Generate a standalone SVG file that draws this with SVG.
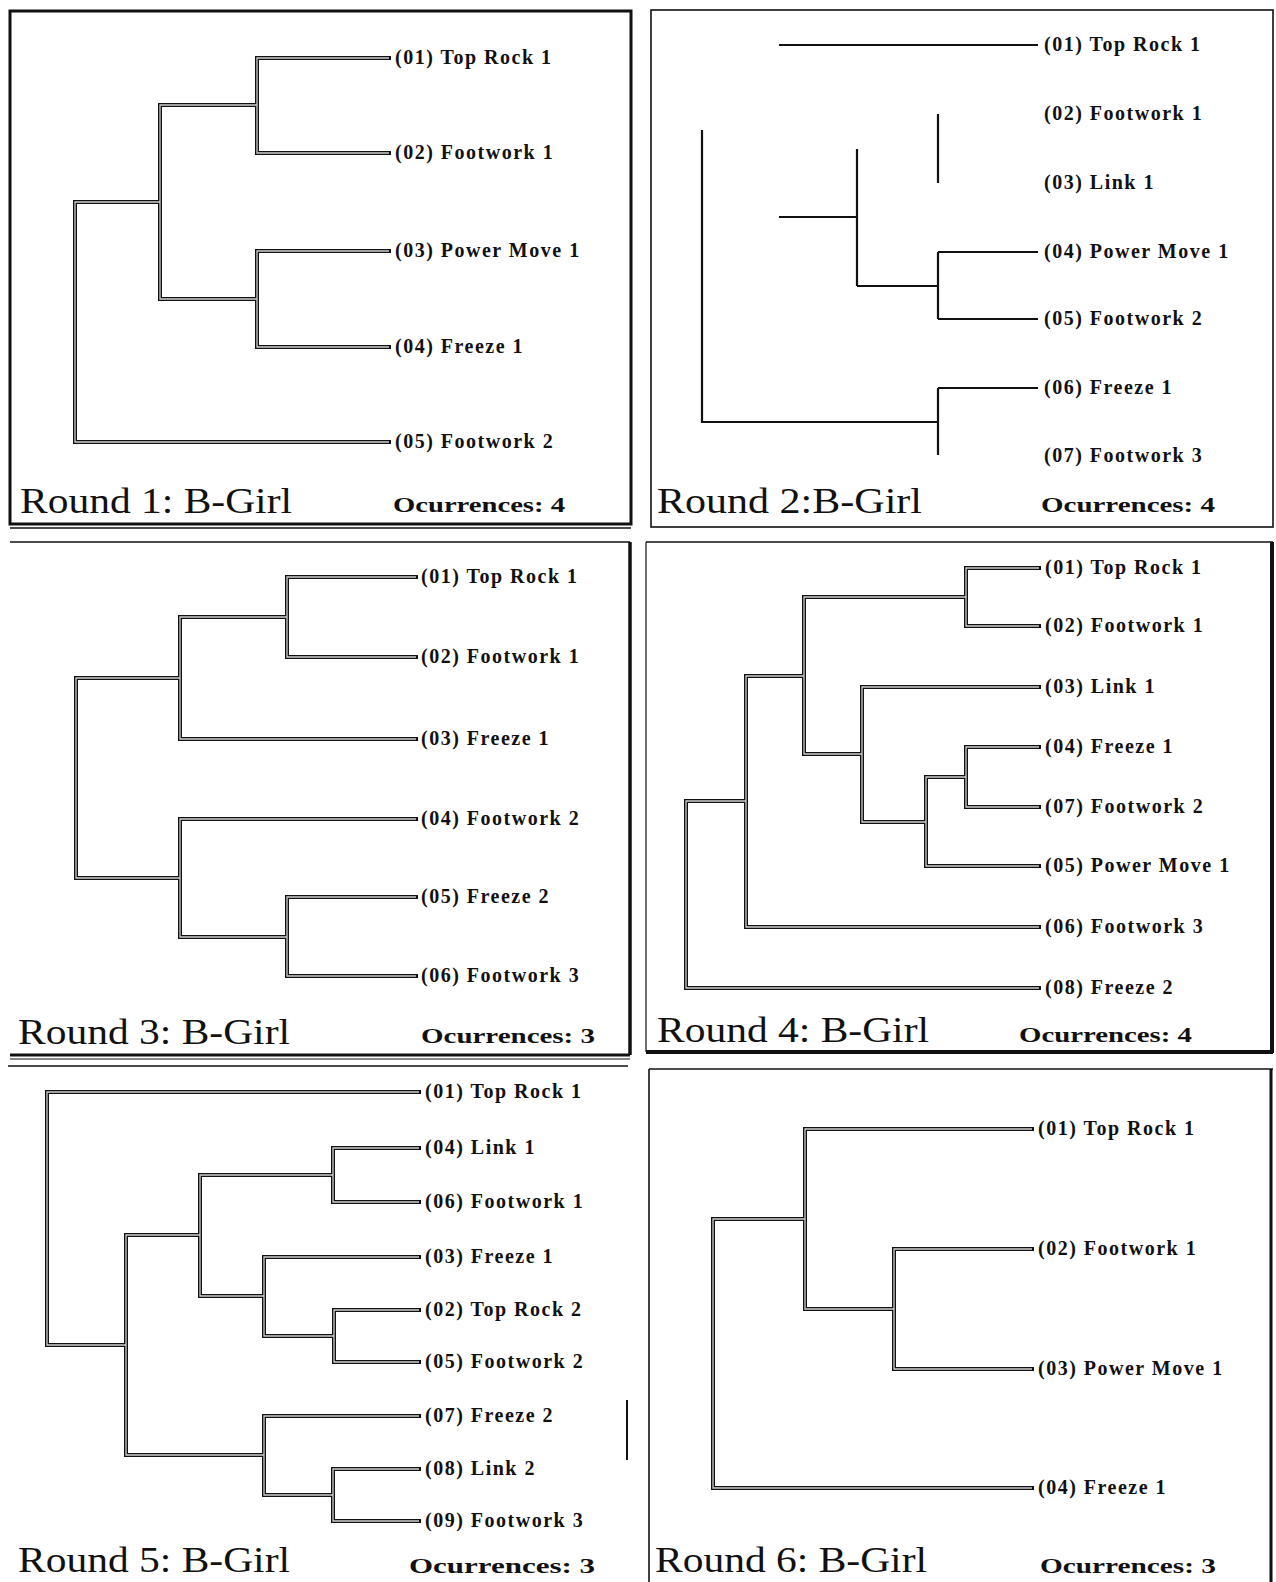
<svg xmlns="http://www.w3.org/2000/svg" xmlns:xlink="http://www.w3.org/1999/xlink" width="1276" height="1582" viewBox="0 0 1276 1582">
<style>
.lbl{font-family:"Liberation Serif","Times New Roman",serif;font-size:20px;font-weight:bold;letter-spacing:1.5px;fill:#111}
.ttl{font-family:"Liberation Serif","Times New Roman",serif;font-size:36px;fill:#111}
.occ{font-family:"Liberation Serif","Times New Roman",serif;font-size:22px;font-weight:bold;fill:#111}
.outer{fill:none;stroke:#111;stroke-width:4;stroke-linecap:square}
.inner{fill:none;stroke:#cfcfcf;stroke-width:1.3}
.plain{fill:none;stroke:#111;stroke-width:2.2}
.frame{fill:none;stroke:#111}
</style>
<defs>
<path id="t1" d="M389,58H257V153H389 M389,251H257V347H389 M257,105H160V299H257 M160,202H75V442H389"/>
<path id="t3" d="M416,577H287V657H416 M287,617H180V739H416 M416,819H180V937H287 M416,897H287V976H416 M180,678H76V878H180"/>
<path id="t4" d="M1039,568H966V626H1039 M966,597H804V754H862 M1039,687H862V822H926 M1039,747H966V807H1039 M966,777H926V866H1039 M804,676H746V927H1039 M746,801H686V988H1039"/>
<path id="t5" d="M419,1092H47V1345H126 M419,1148H333V1202H419 M333,1175H200V1296H264 M419,1257H264V1336H334 M419,1310H334V1362H419 M200,1235H126V1455H264 M419,1416H264V1495H333 M419,1469H333V1521H419"/>
<path id="t6" d="M1032,1129H805V1309H894 M1032,1249H894V1369H1032 M805,1219H713V1488H1032"/>
</defs>
<rect width="1276" height="1582" fill="#fff"/>
<g id="frames">
<rect class="frame" x="10" y="11" width="621" height="513" stroke-width="3"/>
<line class="frame" x1="10" y1="528" x2="631" y2="528" stroke="#888" stroke-width="1.5"/>
<rect class="frame" x="651" y="10" width="622" height="517" stroke-width="1.6"/>
<line class="frame" x1="10" y1="542" x2="630" y2="542" stroke="#aaa" stroke-width="1.5"/>
<line class="frame" x1="630" y1="542" x2="630" y2="1055" stroke-width="3.5"/>
<line class="frame" x1="10" y1="1055" x2="630" y2="1055" stroke-width="3"/>
<line class="frame" x1="10" y1="1059" x2="630" y2="1059" stroke="#777" stroke-width="1.2"/>
<line class="frame" x1="646" y1="542" x2="1273" y2="542" stroke="#bbb" stroke-width="1.5"/>
<line class="frame" x1="646" y1="542" x2="646" y2="1052" stroke="#888" stroke-width="1.2"/>
<line class="frame" x1="1272" y1="542" x2="1272" y2="1053" stroke-width="4"/>
<line class="frame" x1="646" y1="1052" x2="1273" y2="1052" stroke-width="4"/>
<line class="frame" x1="8" y1="1066" x2="628" y2="1066" stroke="#bbb" stroke-width="1.5"/>
<line class="frame" x1="627" y1="1400" x2="627" y2="1460" stroke-width="2"/>
<line class="frame" x1="649" y1="1069" x2="1273" y2="1069" stroke="#bbb" stroke-width="1.5"/>
<line class="frame" x1="649" y1="1069" x2="649" y2="1582" stroke-width="1.6"/>
<line class="frame" x1="1271" y1="1069" x2="1271" y2="1582" stroke-width="3"/>
</g>
<g id="connectors">
<use xlink:href="#t1" class="outer"/><use xlink:href="#t1" class="inner"/>
<path class="plain" d="M779,45H1038 M938,114V183 M857,149V286 M779,217H857 M857,286H938 M938,252V319 M938,252H1038 M938,319H1038 M702,130V422H938 M938,388V455 M938,388H1038"/>
<use xlink:href="#t3" class="outer"/><use xlink:href="#t3" class="inner"/>
<use xlink:href="#t4" class="outer"/><use xlink:href="#t4" class="inner"/>
<use xlink:href="#t5" class="outer"/><use xlink:href="#t5" class="inner"/>
<use xlink:href="#t6" class="outer"/><use xlink:href="#t6" class="inner"/>
</g>
<g id="panel1">
<g id="p1n1"><text class="lbl" x="395" y="64">(01) Top Rock 1</text></g>
<g id="p1n2"><text class="lbl" x="395" y="159">(02) Footwork 1</text></g>
<g id="p1n3"><text class="lbl" x="395" y="257">(03) Power Move 1</text></g>
<g id="p1n4"><text class="lbl" x="395" y="353">(04) Freeze 1</text></g>
<g id="p1n5"><text class="lbl" x="395" y="448">(05) Footwork 2</text></g>
<text class="ttl" x="20" y="513" textLength="272" lengthAdjust="spacingAndGlyphs">Round 1: B-Girl</text>
<text class="occ" x="393" y="512" textLength="172" lengthAdjust="spacingAndGlyphs">Ocurrences: 4</text>
</g>
<g id="panel2">
<g id="p2n1"><text class="lbl" x="1044" y="51">(01) Top Rock 1</text></g>
<g id="p2n2"><text class="lbl" x="1044" y="120">(02) Footwork 1</text></g>
<g id="p2n3"><text class="lbl" x="1044" y="189">(03) Link 1</text></g>
<g id="p2n4"><text class="lbl" x="1044" y="258">(04) Power Move 1</text></g>
<g id="p2n5"><text class="lbl" x="1044" y="325">(05) Footwork 2</text></g>
<g id="p2n6"><text class="lbl" x="1044" y="394">(06) Freeze 1</text></g>
<g id="p2n7"><text class="lbl" x="1044" y="462">(07) Footwork 3</text></g>
<text class="ttl" x="657" y="513" textLength="265" lengthAdjust="spacingAndGlyphs">Round 2:B-Girl</text>
<text class="occ" x="1041" y="512" textLength="174" lengthAdjust="spacingAndGlyphs">Ocurrences: 4</text>
</g>
<g id="panel3">
<g id="p3n1"><text class="lbl" x="421" y="583">(01) Top Rock 1</text></g>
<g id="p3n2"><text class="lbl" x="421" y="663">(02) Footwork 1</text></g>
<g id="p3n3"><text class="lbl" x="421" y="745">(03) Freeze 1</text></g>
<g id="p3n4"><text class="lbl" x="421" y="825">(04) Footwork 2</text></g>
<g id="p3n5"><text class="lbl" x="421" y="903">(05) Freeze 2</text></g>
<g id="p3n6"><text class="lbl" x="421" y="982">(06) Footwork 3</text></g>
<text class="ttl" x="18" y="1044" textLength="272" lengthAdjust="spacingAndGlyphs">Round 3: B-Girl</text>
<text class="occ" x="421" y="1043" textLength="174" lengthAdjust="spacingAndGlyphs">Ocurrences: 3</text>
</g>
<g id="panel4">
<g id="p4n1"><text class="lbl" x="1045" y="574">(01) Top Rock 1</text></g>
<g id="p4n2"><text class="lbl" x="1045" y="632">(02) Footwork 1</text></g>
<g id="p4n3"><text class="lbl" x="1045" y="693">(03) Link 1</text></g>
<g id="p4n4"><text class="lbl" x="1045" y="753">(04) Freeze 1</text></g>
<g id="p4n5"><text class="lbl" x="1045" y="813">(07) Footwork 2</text></g>
<g id="p4n6"><text class="lbl" x="1045" y="872">(05) Power Move 1</text></g>
<g id="p4n7"><text class="lbl" x="1045" y="933">(06) Footwork 3</text></g>
<g id="p4n8"><text class="lbl" x="1045" y="994">(08) Freeze 2</text></g>
<text class="ttl" x="657" y="1042" textLength="272" lengthAdjust="spacingAndGlyphs">Round 4: B-Girl</text>
<text class="occ" x="1019" y="1042" textLength="173" lengthAdjust="spacingAndGlyphs">Ocurrences: 4</text>
</g>
<g id="panel5">
<g id="p5n1"><text class="lbl" x="425" y="1098">(01) Top Rock 1</text></g>
<g id="p5n2"><text class="lbl" x="425" y="1154">(04) Link 1</text></g>
<g id="p5n3"><text class="lbl" x="425" y="1208">(06) Footwork 1</text></g>
<g id="p5n4"><text class="lbl" x="425" y="1263">(03) Freeze 1</text></g>
<g id="p5n5"><text class="lbl" x="425" y="1316">(02) Top Rock 2</text></g>
<g id="p5n6"><text class="lbl" x="425" y="1368">(05) Footwork 2</text></g>
<g id="p5n7"><text class="lbl" x="425" y="1422">(07) Freeze 2</text></g>
<g id="p5n8"><text class="lbl" x="425" y="1475">(08) Link 2</text></g>
<g id="p5n9"><text class="lbl" x="425" y="1527">(09) Footwork 3</text></g>
<text class="ttl" x="18" y="1572" textLength="272" lengthAdjust="spacingAndGlyphs">Round 5: B-Girl</text>
<text class="occ" x="409" y="1573" textLength="186" lengthAdjust="spacingAndGlyphs">Ocurrences: 3</text>
</g>
<g id="panel6">
<g id="p6n1"><text class="lbl" x="1038" y="1135">(01) Top Rock 1</text></g>
<g id="p6n2"><text class="lbl" x="1038" y="1255">(02) Footwork 1</text></g>
<g id="p6n3"><text class="lbl" x="1038" y="1375">(03) Power Move 1</text></g>
<g id="p6n4"><text class="lbl" x="1038" y="1494">(04) Freeze 1</text></g>
<text class="ttl" x="655" y="1572" textLength="272" lengthAdjust="spacingAndGlyphs">Round 6: B-Girl</text>
<text class="occ" x="1040" y="1573" textLength="176" lengthAdjust="spacingAndGlyphs">Ocurrences: 3</text>
</g>
</svg>
